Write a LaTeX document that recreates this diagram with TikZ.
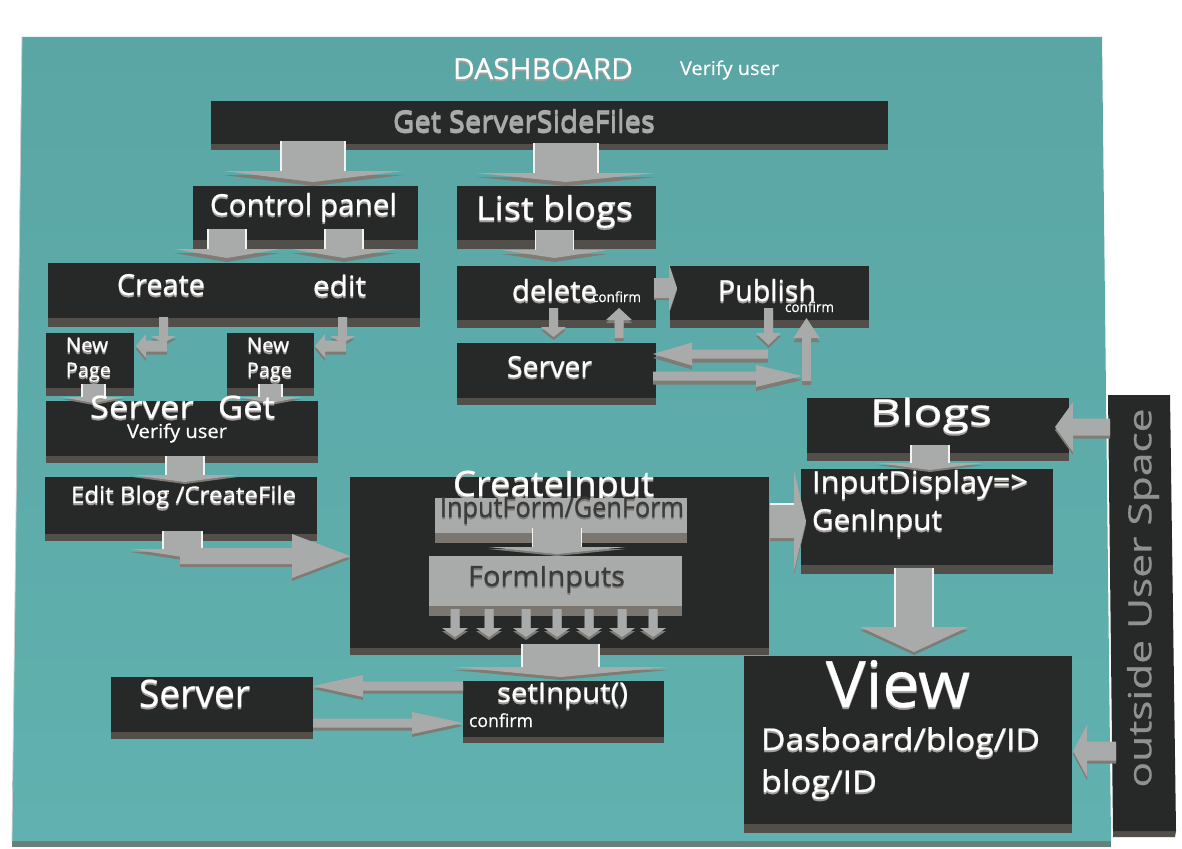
\documentclass[tikz,border=0pt]{standalone}
\usepackage{fontspec}
\usepackage{graphicx}
\setmainfont{Open Sans}[FakeBold=0.6]
\definecolor{boxc}{HTML}{272828}
\definecolor{bandc}{HTML}{524F4B}
\definecolor{arrc}{HTML}{A9ABAB}
\definecolor{arrd}{HTML}{7F7B75}
\definecolor{graybandc}{HTML}{7B7770}
\definecolor{bgtop}{HTML}{5AA6A5}
\definecolor{bgbot}{HTML}{60B1AF}
\definecolor{bgband}{HTML}{66807A}
\definecolor{shw}{HTML}{A29F9B}
\tikzset{
  facebox/.style={rectangle,draw=none,inner sep=0pt,outer sep=0pt,fill=boxc},
  lightbox/.style={rectangle,draw=none,inner sep=0pt,outer sep=0pt,fill=arrc},
  lab/.style={inner sep=0pt,outer sep=0pt,anchor=base west}
}
% name, x1,y1,x2,y2, band bottom, face style, band colour
\newcommand\bxgen[8]{%
  \fill[#8] (#2,#5) rectangle (#4,#6);
  \pgfmathsetmacro\bw{#4-#2}\pgfmathsetmacro\bh{#5-#3}%
  \pgfmathsetmacro\bx{(#2+#4)/2}\pgfmathsetmacro\by{(#3+#5)/2}%
  \node[#7,minimum width=\bw pt,minimum height=\bh pt] (#1) at (\bx,\by) {};
}
\newcommand\bxd[6]{\bxgen{#1}{#2}{#3}{#4}{#5}{#6}{facebox}{bandc}}
\newcommand\bxl[6]{\bxgen{#1}{#2}{#3}{#4}{#5}{#6}{lightbox}{graybandc}}
% name, x1,y1,x2,y2, stem half, head half, head length, depth
\newcommand\barrow[9]{%
  \coordinate (#1-s) at (#2,#3);
  \coordinate (#1-t) at (#4,#5);
  \pgfmathsetmacro\aL{veclen(#4-#2,#5-#3)}%
  \pgfmathsetmacro\aA{atan2(#3-#5,#4-#2)}%
  \pgfmathsetmacro\aN{\aL-#8}%
  \pgfmathsetmacro\aY{#3+#9}%
  \fill[arrd,shift={(#2,\aY)},rotate=\aA] (0,#6) -- (\aN,#6) -- (\aN,#7) -- (\aL,0) -- (\aN,-#7) -- (\aN,-#6) -- (0,-#6) -- cycle;
  \fill[arrc,shift={(#2,#3)},rotate=\aA] (0,#6) -- (\aN,#6) -- (\aN,#7) -- (\aL,0) -- (\aN,-#7) -- (\aN,-#6) -- (0,-#6) -- cycle;
  \def\aSX{#2}\def\aSY{#3}\def\aSH{#6}%
}
\newcommand\barrowh[9]{%
  \barrow{#1}{#2}{#3}{#4}{#5}{#6}{#7}{#8}{#9}
  \draw[white!85!arrc,line width=1.2pt,shift={(\aSX,\aSY)},rotate=\aA] (0,\aSH) -- (\aN,\aSH) (0,-\aSH) -- (\aN,-\aSH);
}
% name, left x, baseline y, size, width, text
\newcommand\lbl[6]{%
  \node[lab,text=white] (#1) at (#2,#3) {\resizebox{#5pt}{\height}{\fontsize{#4}{#4}\selectfont\leavevmode\rlap{\raisebox{-2pt}{\color{shw}#6}}#6}};
}
\newcommand\lbld[6]{%
  \node[lab,text=boxc!85!arrc] (#1) at (#2,#3) {\resizebox{#5pt}{\height}{\fontsize{#4}{#4}\selectfont\leavevmode\rlap{\raisebox{-2pt}{\color{arrd}#6}}#6}};
}
\begin{document}
\begin{tikzpicture}[x=1pt,y=-1pt]
\useasboundingbox (0,0) rectangle (1182,848);
\fill[white] (0,0) rectangle (1182,848);
% base plate
\fill[bgband] (12,841) rectangle (1111,847);
\shade[top color=bgtop,bottom color=bgbot] (22,37) -- (1102,37) -- (1111,841) -- (12,841) -- cycle;
\draw[black!20,line width=0.8pt] (22,37) -- (12,841);
% outside panel
\fill[bandc] (1113,831) -- (1176,831) -- (1175,837) -- (1113,837) -- cycle;
\fill[boxc] (1108,395) -- (1170,395) -- (1176,831) -- (1113,831) -- cycle;
% boxes
\bxd{getfiles}{211}{101}{888}{144}{150}
\bxd{control}{193}{186}{418}{240}{249}
\bxd{listblogs}{457}{186}{656}{240}{249}
\bxd{createedit}{48}{263}{420}{318}{327}
\bxd{newpagea}{46}{333}{134}{388}{396}
\bxd{newpageb}{227}{333}{314}{388}{396}
\bxd{serverget}{46}{401}{318}{456}{463}
\bxd{editblog}{45}{477}{317}{534}{541}
\bxd{deletebox}{457}{266}{656}{320}{328}
\bxd{publish}{670}{266}{869}{320}{328}
\bxd{servertop}{457}{343}{656}{398}{405}
\bxd{blogs}{807}{398}{1069}{453}{461}
\bxd{inputdisplay}{801}{469}{1053}{565}{574}
\bxd{createinput}{350}{477}{769}{648}{655}
\lbl{tcreateinput}{453}{496}{35}{201}{CreateInput}
\bxl{inputform}{435}{498}{687}{533}{543}
\bxl{forminputs}{429}{556}{682}{606}{616}
\bxd{setinput}{463}{681}{664}{737}{743}
\bxd{serverbot}{111}{677}{313}{732}{739}
\bxd{view}{744}{656}{1072}{824}{833}
% arrows
\barrowh{aa}{313}{141}{313}{182}{32}{90}{11}{4}
\barrowh{ab}{566}{143}{566}{182}{32}{90}{9}{4}
\barrowh{ac}{227}{229}{227}{258}{19}{53}{9}{4}
\barrowh{ad}{344}{229}{344}{258}{19}{53}{9}{4}
\barrowh{ae}{554.5}{230}{554.5}{258}{19}{53}{8}{4}
\barrow{af}{163.5}{317}{163.5}{343}{4.5}{12.5}{7}{3}
\barrow{ag}{167}{346}{136}{346}{5.5}{12}{10}{3}
\barrow{ah}{342.5}{317}{342.5}{343}{4.5}{12.5}{7}{3}
\barrow{ai}{346}{346}{315}{346}{5.5}{12}{10}{3}
\barrowh{aj}{93.5}{384}{93.5}{403}{11.5}{32}{6}{2}
\barrowh{ak}{270.5}{384}{270.5}{403}{11.5}{32}{6}{2}
\barrowh{al}{185}{456}{185}{482}{19}{53}{7}{2}
\barrowh{am}{182.5}{531}{182.5}{557}{19.5}{52}{8}{3}
\barrow{an}{180}{556}{350}{556}{8}{22}{58}{3}
\barrow{ao}{654}{288}{677}{288}{10}{24}{8}{2}
\barrow{ap}{553.5}{308}{553.5}{337}{4.5}{12.5}{10}{3}
\barrow{aq}{619}{338}{619}{308}{4.5}{13}{12}{3}
\barrow{ar}{768.5}{308}{768.5}{345}{4.5}{12.5}{12}{3}
\barrow{as}{768}{354}{653}{354}{4.5}{11.5}{39}{4}
\barrow{at}{653}{376}{802}{376}{4.5}{11}{46}{4}
\barrow{au}{806.5}{381}{806.5}{318}{4.5}{13}{20}{4}
\barrowh{av}{557}{528}{557}{554}{24.5}{69}{7}{2}
\barrow{s1}{455}{609}{455}{637}{4.5}{13}{9}{3}
\barrow{s2}{489}{609}{489}{637}{4.5}{13}{9}{3}
\barrow{s3}{526}{609}{526}{637}{4.5}{13}{9}{3}
\barrow{s4}{557}{609}{557}{637}{4.5}{13}{9}{3}
\barrow{s5}{589}{609}{589}{637}{4.5}{13}{9}{3}
\barrow{s6}{622}{609}{622}{637}{4.5}{13}{9}{3}
\barrow{s7}{653}{609}{653}{637}{4.5}{13}{9}{3}
\barrowh{aw}{560.5}{644}{560.5}{677}{38.5}{108}{10}{3}
\barrow{ax}{463}{686}{313}{686}{4.5}{11}{50}{3}
\barrow{ay}{313}{723}{463}{723}{4.5}{11}{51}{3}
\barrow{az}{770}{521}{806}{521}{17}{50}{12}{3}
\draw[white!85!arrc,line width=1.2pt] (770,504) -- (794,504);
\barrowh{ba}{930}{445}{930}{470}{19}{54}{7}{2}
\barrowh{bb}{914}{568}{914}{652}{19}{54}{25}{3}
\barrow{bc}{1110}{427}{1055}{427}{8.5}{25}{18}{3}
\barrow{bd}{1116}{751}{1073}{751}{9.5}{26}{14}{3}
% text
\lbl{tdash}{453}{79}{29}{180}{DASHBOARD}
\node[lab,text=white] (tverifya) at (680,75) {\resizebox{99pt}{\height}{\fontsize{19}{19}\selectfont Verify user}};
\lbld{tget}{393}{131}{29}{262}{\color{arrc}Get ServerSideFiles}
\lbl{tcontrol}{210}{215}{29}{187}{Control panel}
\lbl{tlist}{476}{220}{33}{157}{List blogs}
\lbl{tcreate}{117}{295}{29}{88}{Create}
\lbl{tedit}{313}{296}{28}{53}{edit}
\lbl{tnewa}{66}{352}{20}{42}{New}
\lbl{tpagea}{66}{377}{20}{45}{Page}
\lbl{tnewb}{247}{352}{20}{42}{New}
\lbl{tpageb}{247}{377}{20}{45}{Page}
\lbl{tserverget}{90}{418}{31}{185}{Server\hspace{0.7em}Get}
\node[lab,text=white] (tverifyb) at (127,438) {\resizebox{100pt}{\height}{\fontsize{19}{19}\selectfont Verify user}};
\lbl{tedb}{71}{503}{23}{225}{Edit Blog /CreateFile}
\lbl{tdelete}{512}{301}{29}{85}{delete}
\node[lab,text=white] (tcfa) at (592,302) {\resizebox{49pt}{\height}{\fontsize{14}{14}\selectfont confirm}};
\lbl{tpublish}{718}{301}{29}{98}{Publish}
\node[lab,text=white] (tcfb) at (785,312) {\resizebox{49pt}{\height}{\fontsize{14}{14}\selectfont confirm}};
\lbl{tservera}{507}{377}{29}{85}{Server}
\lbl{tblogs}{870}{425}{36}{122}{Blogs}
\lbl{tinputd}{812}{492}{29}{216}{InputDisplay=>}
\lbl{tgeninput}{812}{530}{29}{130}{GenInput}
\lbld{tform}{440}{517}{28}{244}{InputForm/GenForm}
\lbld{tfi}{468}{586}{28}{157}{FormInputs}
\lbl{tset}{497}{702}{27}{131}{setInput()}
\node[lab,text=white] (tcfc) at (469,727) {\resizebox{64pt}{\height}{\fontsize{18}{18}\selectfont confirm}};
\lbl{tserverb}{139}{707}{38}{111}{Server}
\lbl{tview}{826}{707}{64}{144}{View}
\lbl{tdas}{761}{750}{30}{279}{Dasboard/blog/ID}
\lbl{tblogid}{761}{792}{30}{116}{blog/ID}
\node[inner sep=0pt,outer sep=0pt,text=arrc!85!black,rotate=90,anchor=center] (toutside) at (1143,598) {\resizebox{379pt}{\height}{\fontsize{32}{32}\selectfont outside User Space}};
\end{tikzpicture}
\end{document}
